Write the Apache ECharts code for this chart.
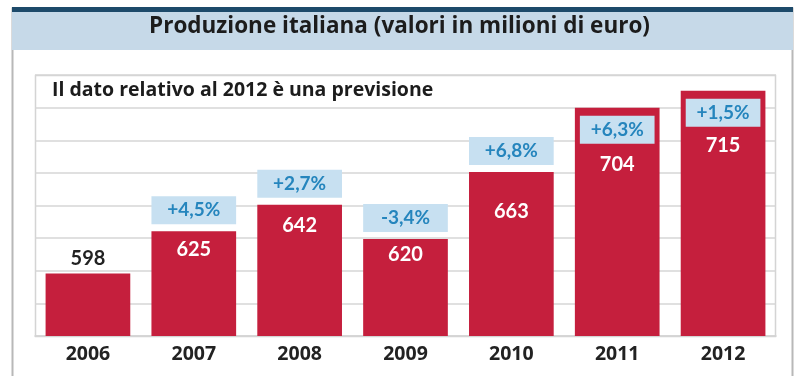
<!DOCTYPE html>
<html>
<head>
<meta charset="utf-8">
<script src="https://cdn.jsdelivr.net/npm/echarts@6/dist/echarts.min.js"></script>
<style>
  html, body { margin: 0; padding: 0; background: #ffffff; }
  #chart { width: 799px; height: 376px; }
</style>
</head>
<body>
<div id="chart"></div>
<script>
// Italian production, millions of euro (2012 is a forecast)
const years = ['2006', '2007', '2008', '2009', '2010', '2011', '2012'];
const production = [598, 625, 642, 620, 663, 704, 715];
const yearChange = ['', '+4,5%', '+2,7%', '-3,4%', '+6,8%', '+6,3%', '+1,5%'];

const titleText = 'Produzione italiana (valori in milioni di euro)';
const noteText = 'Il dato relativo al 2012 è una previsione';

// Layout of the annotations: change badge drawn above the bar or inside it,
// and how far the value label sits below the bar top (px).
const badgeInside = [false, false, false, false, false, true, true];
const valueDrop = [null, 18, 21, 15, 40, 57, 55];

const FONT = 'Lato, "DejaVu Sans", sans-serif';
const WIDE = '"Open Sans", "Noto Sans", sans-serif';
const RED = '#c51f3d';
const BADGE_BG = '#c7e0f1';
const BADGE_TEXT = '#2585bd';

const chart = echarts.init(document.getElementById('chart'), null, { renderer: 'canvas' });

const barData = production.map((v, i) => {
  if (valueDrop[i] === null) {
    return {
      value: v,
      label: { show: true, position: 'top', distance: 5, color: '#222', fontSize: 20, fontWeight: 'bold', fontFamily: FONT }
    };
  }
  return {
    value: v,
    label: { show: true, position: 'insideTop', distance: valueDrop[i] - 10, color: '#ffffff', fontSize: 20, fontWeight: 'bold', fontFamily: FONT }
  };
});

const badgeData = production.map((v, i) => [i, v]);

chart.setOption({
  animation: false,
  backgroundColor: '#ffffff',
  grid: { left: 35, right: 23, top: 75, bottom: 40, containLabel: false },
  graphic: [
    // outer frame
    { type: 'rect', z: -10, shape: { x: 12.5, y: 8.5, width: 780, height: 380 }, style: { fill: '#ffffff', stroke: '#b8b8b8', lineWidth: 2 } },
    // header band
    { type: 'rect', z: -9, shape: { x: 12, y: 12, width: 781, height: 38 }, style: { fill: '#c6d9e8' } },
    { type: 'rect', z: -8, shape: { x: 12, y: 7, width: 781, height: 5 }, style: { fill: '#1d4a6a' } },
    { type: 'text', z: 5, left: 'center', top: 15, style: { text: titleText, font: 'bold 22.5px ' + WIDE, fill: '#1c1c1c' } },
    // plot box
    { type: 'rect', z: -7, shape: { x: 35.5, y: 75.5, width: 740, height: 261 }, style: { fill: '#ffffff', stroke: '#d4d4d4', lineWidth: 1.5 } },
    { type: 'text', z: 5, left: 52, top: 80, style: { text: noteText, font: 'bold 19.5px ' + WIDE, fill: '#1c1c1c' } }
  ],
  xAxis: {
    type: 'category',
    data: years,
    axisLine: { show: true, lineStyle: { color: '#d4d4d4', width: 1.5 } },
    axisTick: { show: false },
    axisLabel: { margin: 8, color: '#222', fontSize: 19.5, fontWeight: 'bold', fontFamily: WIDE }
  },
  yAxis: [
    { type: 'value', min: 558, max: 725, show: false, splitLine: { show: false } },
    {
      type: 'value', min: 0, max: 8, interval: 1, position: 'left',
      axisLine: { show: false }, axisTick: { show: false }, axisLabel: { show: false },
      splitLine: { show: true, lineStyle: { color: '#d6d6d6', width: 1.5 } }
    }
  ],
  series: [
    {
      type: 'bar',
      yAxisIndex: 0,
      data: barData,
      barCategoryGap: '20%',
      itemStyle: { color: RED },
      z: 2
    },
    {
      type: 'custom',
      yAxisIndex: 0,
      z: 3,
      data: badgeData,
      renderItem: function (params, api) {
        const i = params.dataIndex;
        if (!yearChange[i]) return null;
        const top = api.coord([api.value(0), api.value(1)]);
        const bw = api.size([1, 0])[0] * 0.8;
        const h = 28;
        let x, y, w;
        if (badgeInside[i]) {
          w = bw - 10;
          x = top[0] - w / 2;
          y = top[1] + 8;
        } else {
          w = bw;
          x = top[0] - w / 2;
          y = top[1] - 7 - h;
        }
        return {
          type: 'group',
          children: [
            { type: 'rect', shape: { x: x, y: y, width: w, height: h }, style: { fill: BADGE_BG } },
            {
              type: 'text',
              style: {
                text: yearChange[i], x: top[0], y: y + h / 2,
                align: 'center', verticalAlign: 'middle',
                font: 'bold 19px ' + FONT, fill: BADGE_TEXT
              }
            }
          ]
        };
      }
    }
  ]
});
</script>
</body>
</html>
